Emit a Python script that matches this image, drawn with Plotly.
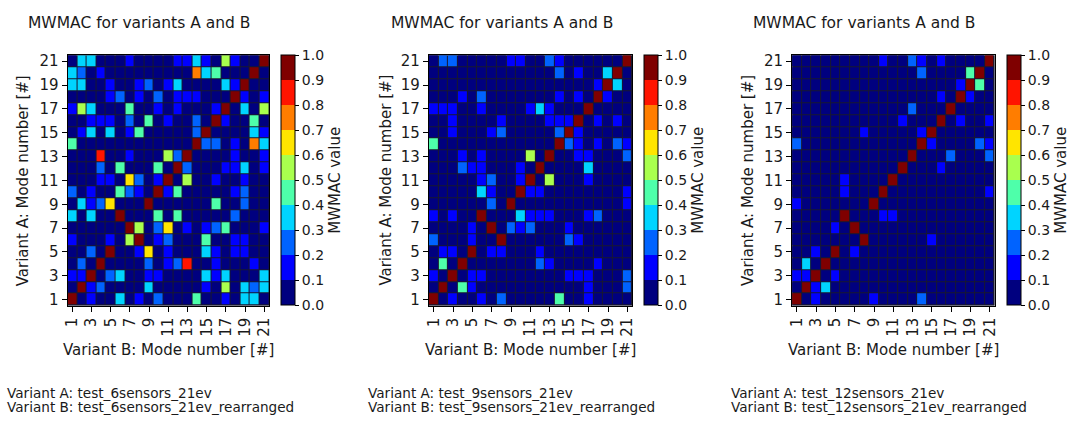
import plotly.graph_objects as go

# MWMAC matrices, rows = Variant A mode 1..21 (bottom to top), columns = Variant B mode 1..21
modes = list(range(1, 22))
tick_modes = [1, 3, 5, 7, 9, 11, 13, 15, 17, 19, 21]
cbar_ticks = [0.0, 0.1, 0.2, 0.3, 0.4, 0.5, 0.6, 0.7, 0.8, 0.9, 1.0]
cbar_text = ["0.0", "0.1", "0.2", "0.3", "0.4", "0.5", "0.6", "0.7", "0.8", "0.9", "1.0"]

mwmac_6sensors = [
    [.95,.05,.15,.05,.05,.35,.05,.15,.05,.25,.05,.05,.05,.45,.05,.05,.15,.05,.35,.35,.05],
    [.05,.95,.15,.25,.05,.05,.05,.05,.35,.05,.05,.05,.05,.05,.15,.05,.55,.05,.35,.25,.35],
    [.15,.15,.95,.05,.25,.35,.05,.05,.15,.15,.05,.05,.05,.05,.35,.15,.35,.05,.05,.05,.35],
    [.05,.25,.05,.95,.05,.05,.05,.05,.25,.05,.15,.25,.85,.05,.05,.15,.05,.05,.05,.15,.05],
    [.05,.05,.25,.05,.95,.05,.05,.15,.65,.05,.15,.05,.05,.05,.35,.15,.05,.15,.15,.05,.05],
    [.15,.05,.05,.05,.15,.05,.55,.95,.05,.15,.25,.05,.05,.05,.45,.05,.05,.15,.15,.05,.05],
    [.05,.05,.05,.05,.05,.05,.95,.55,.05,.25,.65,.05,.15,.05,.15,.25,.45,.05,.05,.05,.15],
    [.35,.05,.35,.05,.05,.95,.05,.05,.05,.45,.05,.45,.05,.05,.05,.05,.05,.25,.05,.05,.05],
    [.05,.35,.15,.25,.65,.05,.05,.05,.95,.05,.05,.05,.05,.05,.05,.45,.05,.05,.25,.05,.05],
    [.25,.05,.15,.05,.05,.45,.25,.15,.05,.95,.15,.45,.05,.05,.05,.05,.05,.15,.25,.05,.05],
    [.05,.05,.05,.15,.15,.05,.65,.25,.05,.15,.95,.05,.55,.05,.05,.15,.05,.05,.15,.05,.05],
    [.05,.05,.05,.25,.05,.45,.05,.05,.05,.45,.05,.95,.25,.05,.05,.05,.15,.15,.35,.05,.15],
    [.05,.05,.05,.85,.05,.05,.15,.05,.05,.05,.55,.25,.95,.05,.05,.05,.05,.15,.05,.05,.15],
    [.45,.05,.05,.05,.05,.05,.05,.05,.05,.05,.05,.05,.05,.95,.25,.25,.05,.15,.05,.75,.35],
    [.05,.15,.35,.05,.35,.05,.15,.45,.05,.05,.05,.05,.05,.25,.95,.05,.05,.05,.05,.35,.15],
    [.05,.05,.15,.15,.15,.05,.25,.05,.45,.05,.15,.05,.05,.25,.05,.95,.15,.05,.05,.45,.05],
    [.15,.55,.35,.05,.05,.05,.45,.05,.05,.15,.05,.15,.05,.05,.05,.15,.95,.05,.35,.05,.55],
    [.05,.05,.05,.05,.15,.25,.05,.15,.05,.25,.05,.15,.15,.15,.05,.05,.05,.95,.15,.05,.15],
    [.35,.35,.05,.05,.15,.05,.05,.15,.25,.05,.15,.35,.05,.05,.05,.05,.35,.15,.95,.05,.05],
    [.35,.25,.05,.15,.05,.05,.05,.05,.05,.05,.05,.05,.05,.75,.35,.45,.05,.05,.05,.95,.05],
    [.05,.35,.35,.05,.05,.05,.15,.05,.05,.05,.05,.15,.15,.35,.15,.05,.55,.15,.05,.05,.95],
]

mwmac_9sensors = [
    [.95,.05,.15,.05,.05,.15,.05,.25,.05,.05,.05,.05,.05,.45,.05,.05,.15,.05,.05,.05,.05],
    [.05,.95,.05,.45,.15,.05,.05,.05,.05,.05,.05,.05,.05,.05,.05,.05,.15,.05,.05,.05,.25],
    [.15,.05,.95,.05,.15,.15,.05,.05,.05,.05,.05,.05,.05,.05,.15,.15,.15,.05,.05,.05,.25],
    [.05,.45,.05,.95,.05,.05,.05,.05,.05,.05,.05,.25,.15,.05,.05,.05,.05,.15,.05,.05,.05],
    [.05,.15,.15,.05,.95,.05,.15,.15,.05,.05,.05,.15,.05,.05,.05,.05,.05,.05,.05,.05,.05],
    [.25,.05,.05,.05,.15,.05,.05,.95,.05,.05,.05,.05,.05,.05,.25,.15,.05,.05,.05,.05,.05],
    [.05,.05,.05,.05,.15,.05,.95,.05,.25,.15,.25,.05,.05,.05,.15,.05,.05,.05,.05,.05,.05],
    [.15,.05,.15,.05,.05,.95,.05,.05,.05,.35,.15,.15,.15,.05,.05,.05,.15,.25,.05,.05,.05],
    [.05,.05,.05,.05,.05,.05,.25,.05,.95,.05,.05,.05,.05,.05,.05,.05,.05,.05,.05,.05,.15],
    [.05,.05,.05,.05,.05,.35,.15,.05,.05,.95,.15,.15,.05,.05,.05,.05,.05,.05,.05,.05,.15],
    [.05,.05,.05,.05,.05,.15,.25,.05,.05,.15,.95,.05,.55,.05,.05,.05,.15,.05,.05,.05,.05],
    [.05,.05,.05,.25,.15,.15,.05,.05,.05,.15,.05,.95,.05,.05,.05,.05,.35,.05,.05,.05,.05],
    [.05,.05,.05,.15,.05,.15,.05,.05,.05,.05,.55,.05,.95,.05,.05,.15,.15,.05,.05,.05,.25],
    [.45,.05,.05,.05,.05,.05,.05,.05,.05,.05,.05,.05,.05,.95,.25,.15,.05,.15,.05,.25,.15],
    [.05,.05,.15,.05,.05,.05,.15,.25,.05,.05,.05,.05,.05,.25,.95,.15,.05,.05,.05,.05,.05],
    [.05,.05,.15,.05,.05,.05,.05,.15,.05,.05,.05,.05,.15,.15,.15,.95,.05,.15,.05,.15,.05],
    [.15,.15,.15,.05,.05,.15,.05,.05,.05,.05,.15,.35,.15,.05,.05,.05,.95,.05,.05,.05,.05],
    [.05,.05,.05,.15,.05,.25,.05,.05,.05,.05,.05,.05,.05,.15,.05,.15,.05,.95,.15,.05,.05],
    [.05,.05,.05,.05,.05,.05,.05,.05,.05,.05,.05,.05,.05,.05,.05,.05,.05,.15,.95,.35,.05],
    [.05,.05,.05,.05,.05,.05,.05,.05,.05,.05,.05,.05,.05,.25,.05,.15,.05,.05,.35,.95,.05],
    [.05,.25,.25,.05,.05,.05,.05,.05,.15,.15,.05,.05,.25,.15,.05,.05,.05,.05,.05,.05,.95],
]

mwmac_12sensors = [
    [.95,.05,.15,.05,.05,.05,.05,.05,.15,.05,.05,.05,.05,.25,.05,.05,.05,.05,.05,.05,.05],
    [.05,.95,.15,.35,.05,.05,.05,.05,.05,.05,.05,.05,.05,.05,.05,.05,.05,.05,.05,.05,.05],
    [.15,.15,.95,.05,.15,.05,.05,.05,.05,.05,.05,.05,.05,.05,.05,.05,.05,.05,.05,.05,.05],
    [.05,.35,.05,.95,.05,.05,.05,.05,.05,.05,.05,.05,.05,.05,.05,.05,.05,.05,.05,.05,.05],
    [.05,.05,.15,.05,.95,.05,.15,.05,.05,.05,.05,.05,.05,.05,.05,.05,.05,.05,.05,.05,.05],
    [.05,.05,.05,.05,.05,.05,.05,.95,.05,.05,.05,.05,.05,.05,.15,.05,.05,.05,.05,.05,.05],
    [.05,.05,.05,.05,.15,.05,.95,.05,.05,.05,.05,.05,.05,.05,.05,.05,.05,.05,.05,.05,.05],
    [.05,.05,.05,.05,.05,.95,.05,.05,.05,.15,.15,.05,.05,.05,.05,.05,.05,.05,.05,.05,.05],
    [.15,.05,.05,.05,.05,.05,.05,.05,.95,.05,.05,.05,.05,.05,.05,.05,.05,.05,.05,.05,.05],
    [.05,.05,.05,.05,.05,.15,.05,.05,.05,.95,.05,.05,.05,.05,.05,.05,.05,.05,.05,.05,.15],
    [.05,.05,.05,.05,.05,.15,.05,.05,.05,.05,.95,.05,.05,.05,.05,.05,.05,.05,.05,.05,.05],
    [.05,.05,.05,.05,.05,.05,.05,.05,.05,.05,.05,.95,.05,.05,.05,.15,.05,.05,.05,.05,.05],
    [.05,.05,.05,.05,.05,.05,.05,.05,.05,.05,.05,.05,.95,.05,.05,.05,.25,.05,.05,.05,.25],
    [.25,.05,.05,.05,.05,.05,.05,.05,.05,.05,.05,.05,.05,.95,.15,.05,.05,.05,.05,.25,.15],
    [.05,.05,.05,.05,.05,.05,.05,.15,.05,.05,.05,.05,.05,.15,.95,.05,.05,.05,.05,.05,.05],
    [.05,.05,.05,.05,.05,.05,.05,.05,.05,.05,.05,.15,.05,.05,.05,.95,.05,.15,.05,.05,.15],
    [.05,.05,.05,.05,.05,.05,.05,.05,.05,.05,.05,.05,.25,.05,.05,.05,.95,.05,.05,.05,.05],
    [.05,.05,.05,.05,.05,.05,.05,.05,.05,.05,.05,.05,.05,.05,.05,.15,.05,.95,.15,.05,.05],
    [.05,.05,.05,.05,.05,.05,.05,.05,.05,.05,.05,.05,.05,.05,.05,.05,.05,.15,.95,.45,.05],
    [.05,.05,.05,.05,.05,.05,.05,.05,.05,.05,.05,.05,.05,.25,.05,.05,.05,.05,.45,.95,.05],
    [.05,.05,.05,.05,.05,.05,.05,.05,.05,.15,.05,.05,.25,.15,.05,.15,.05,.05,.05,.05,.95],
]

variant_a = ["test_6sensors_21ev", "test_9sensors_21ev", "test_12sensors_21ev"]
variant_b = ["test_6sensors_21ev_rearranged", "test_9sensors_21ev_rearranged",
             "test_12sensors_21ev_rearranged"]
title_text = "MWMAC for variants A and B"

# discrete jet colormap, 10 levels
jet10 = ["#00007f", "#0000ff", "#0063ff", "#00d4ff", "#4effaa",
         "#a9ff4e", "#ffe500", "#ff7d00", "#ff1400", "#7f0000"]
colorscale = []
for i, c in enumerate(jet10):
    colorscale.append([i / 10, c])
    colorscale.append([(i + 1) / 10, c])

W, H = 1080, 422
FONT = "DejaVu Sans"
TXT = "#1a1a1a"

plot_left = [64, 428, 794]
plot_right = [267, 633, 998]
plot_top, plot_bot = 53, 307
title_cx = [136, 502, 866]
ylab_x = [20, 385, 750]
foot_x = [1, 365, 730]

mats = [mwmac_6sensors, mwmac_9sensors, mwmac_12sensors]

fig = go.Figure()
annotations = []
for k in range(3):
    xa = "x" if k == 0 else f"x{k+1}"
    ya = "y" if k == 0 else f"y{k+1}"
    fig.add_trace(go.Heatmap(
        z=mats[k], x=modes, y=modes, xaxis=xa, yaxis=ya,
        zmin=0, zmax=1, colorscale=colorscale, xgap=1, ygap=1,
        hoverinfo="skip",
        colorbar=dict(
            x=(plot_right[k] + 12) / W, xanchor="left", xpad=0,
            y=1 - plot_top / H, yanchor="top", ypad=0,
            len=(plot_bot - plot_top) / H, lenmode="fraction",
            thickness=14, thicknessmode="pixels",
            outlinewidth=1, outlinecolor="black",
            tickvals=cbar_ticks, ticktext=cbar_text,
            ticks="outside", ticklen=4, tickcolor="black",
            tickfont=dict(family=FONT, size=14, color=TXT),
            title=dict(text="MWMAC value", side="right",
                       font=dict(family=FONT, size=15, color=TXT)),
        ),
    ))
    axis_common = dict(range=[0.5, 21.5], tickvals=tick_modes, ticks="outside",
                       ticklen=5, tickcolor="black", showline=True, linecolor="black",
                       linewidth=1, mirror=True, showgrid=False, zeroline=False,
                       tickfont=dict(family=FONT, size=15, color=TXT))
    fig.update_layout(**{
        ("xaxis" if k == 0 else f"xaxis{k+1}"): dict(
            domain=[plot_left[k] / W, plot_right[k] / W], anchor=ya,
            tickangle=-90, **axis_common),
        ("yaxis" if k == 0 else f"yaxis{k+1}"): dict(
            domain=[1 - plot_bot / H, 1 - plot_top / H], anchor=xa,
            **axis_common),
    })
    annotations.append(dict(text=title_text, x=title_cx[k] / W, y=1 - 20 / H,
                            xref="paper", yref="paper", showarrow=False,
                            xanchor="center", yanchor="middle",
                            font=dict(family=FONT, size=15.5, color=TXT)))
    annotations.append(dict(text="Variant B: Mode number [#]",
                            x=(plot_left[k] + plot_right[k]) / 2 / W, y=1 - 352 / H,
                            xref="paper", yref="paper", showarrow=False,
                            xanchor="center", yanchor="middle",
                            font=dict(family=FONT, size=15, color=TXT)))
    annotations.append(dict(text="Variant A: Mode number [#]",
                            x=ylab_x[k] / W, y=1 - (plot_top + plot_bot) / 2 / H,
                            xref="paper", yref="paper", showarrow=False, textangle=-90,
                            xanchor="center", yanchor="middle",
                            font=dict(family=FONT, size=15, color=TXT)))
    for j, line in enumerate([f"Variant A: {variant_a[k]}", f"Variant B: {variant_b[k]}"]):
        annotations.append(dict(text=line, x=foot_x[k] / W, y=1 - (396 + 14 * j) / H,
                                xref="paper", yref="paper", showarrow=False, align="left",
                                xanchor="left", yanchor="middle",
                                font=dict(family=FONT, size=13.6, color=TXT)))

fig.update_layout(width=W, height=H, margin=dict(l=0, r=0, t=0, b=0),
                  paper_bgcolor="white", plot_bgcolor="#181830",
                  annotations=annotations, showlegend=False)
fig.write_html("out.html")
